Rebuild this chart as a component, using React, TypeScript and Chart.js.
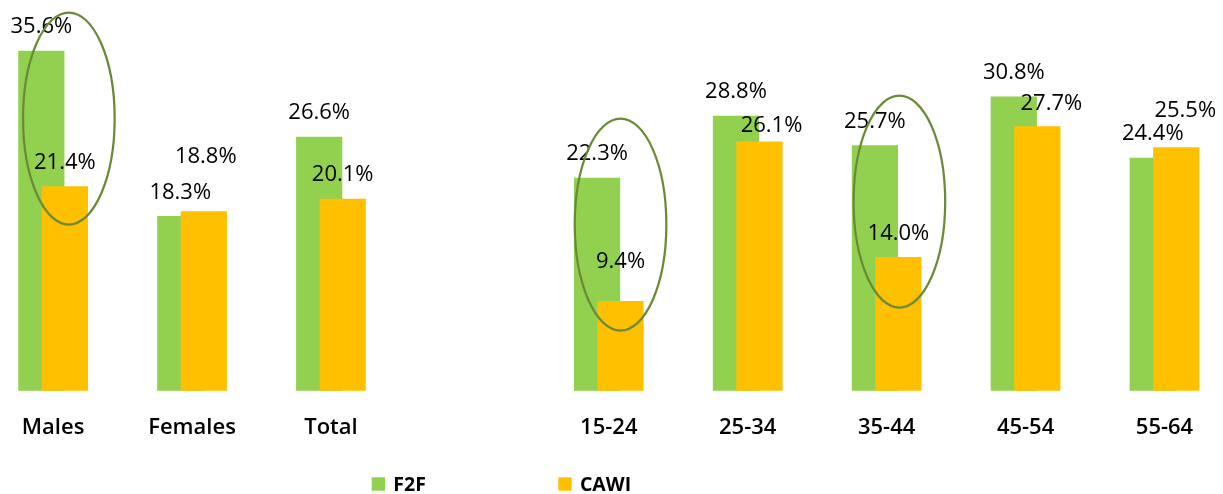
import React, { useEffect, useRef } from 'react';
import { Chart, registerables } from 'chart.js';

Chart.register(...registerables);

// ---- data -------------------------------------------------------------
const categories = ['Males', 'Females', 'Total', '', '15-24', '25-34', '35-44', '45-54', '55-64'];
const f2fShare = [35.6, 18.3, 26.6, null, 22.3, 28.8, 25.7, 30.8, 24.4];
const cawiShare = [21.4, 18.8, 20.1, null, 9.4, 26.1, 14.0, 27.7, 25.5];
const seriesNames = ['F2F', 'CAWI'];
const seriesColors = ['#92D050', '#FFC000'];

// CAWI value labels that were moved off their default spot (dx, dy in px)
const cawiLabelShift: [number, number][] = [
  [0, 0], [2, -31], [0, 0], [0, 0], [0, -16], [12, 8], [0, 0], [14, 1], [9, -13],
];

// groups circled to highlight the F2F / CAWI gap (centre value, x nudge)
const circledGroups = ['Males', '15-24', '35-44'];
const circleCentres = [28.5, 17.4, 19.8];
const circleNudge = [4, 0, 1];

const FONT = '"Open Sans", "Noto Sans", sans-serif';

// draw datasets first-to-last so the CAWI bars sit over the F2F bars
const overlapOrder = {
  id: 'overlapOrder',
  beforeDatasetsDraw(chart: any) {
    const metas = chart.getSortedVisibleDatasetMetas();
    metas.forEach((m: any) => m.controller.draw());
    return false;
  },
};

const decorations = {
  id: 'decorations',
  afterDraw(chart: any) {
    const ctx: CanvasRenderingContext2D = chart.ctx;
    const yScale = chart.scales.y;
    ctx.save();

    // value labels
    ctx.font = `22px ${FONT}`;
    ctx.fillStyle = '#000';
    ctx.textAlign = 'center';
    ctx.textBaseline = 'alphabetic';
    chart.data.datasets.forEach((ds: any, di: number) => {
      const meta = chart.getDatasetMeta(di);
      meta.data.forEach((bar: any, i: number) => {
        const v = ds.data[i];
        if (v == null) return;
        const s = di === 1 ? cawiLabelShift[i] : [0, 0];
        ctx.fillText(`${v.toFixed(1)}%`, bar.x + s[0], bar.y - 17.3 + s[1]);
      });
    });

    // highlight ellipses around the CAWI bar of selected groups
    const cawiMeta = chart.getDatasetMeta(1);
    ctx.strokeStyle = '#6A8A38';
    ctx.lineWidth = 2.25;
    circledGroups.forEach((g, k) => {
      const idx = categories.indexOf(g);
      const bar: any = cawiMeta.data[idx];
      const cx = bar.x + circleNudge[k];
      const cy = yScale.getPixelForValue(circleCentres[k]);
      ctx.beginPath();
      ctx.ellipse(cx, cy, 45.8, 106, 0, 0, Math.PI * 2);
      ctx.stroke();
    });

    // legend
    ctx.font = `700 19.5px ${FONT}`;
    ctx.textAlign = 'left';
    const legendLeft = 371.7;
    const legendStep = 186.6;
    chart.data.datasets.forEach((ds: any, di: number) => {
      const x = legendLeft + di * legendStep;
      ctx.fillStyle = ds.backgroundColor;
      ctx.fillRect(x, 477.3, 13.4, 13.4);
      ctx.fillStyle = '#000';
      ctx.fillText(ds.label, x + 21.6, 490.7);
    });

    ctx.restore();
  },
};

export default function App() {
  const canvasRef = useRef<HTMLCanvasElement | null>(null);

  useEffect(() => {
    document.body.style.margin = '0';
    const canvas = canvasRef.current;
    if (!canvas) return;
    const chart = new Chart(canvas, {
      type: 'bar',
      data: {
        labels: categories,
        datasets: [
          {
            label: seriesNames[0],
            data: f2fShare,
            backgroundColor: seriesColors[0],
            borderWidth: 0,
            categoryPercentage: 0.3384,
            barPercentage: 1.966,
            clip: false,
          },
          {
            label: seriesNames[1],
            data: cawiShare,
            backgroundColor: seriesColors[1],
            borderWidth: 0,
            categoryPercentage: 0.3384,
            barPercentage: 1.966,
            clip: false,
          },
        ],
      } as any,
      options: {
        responsive: false,
        animation: false,
        events: [],
        layout: { padding: { left: 53.1, right: 58.5, top: 8.7, bottom: 28.7 } },
        plugins: {
          legend: { display: false },
          tooltip: { enabled: false },
        },
        scales: {
          x: {
            offset: false,
            grid: { display: false, drawTicks: false },
            border: { display: false },
            ticks: {
              padding: 20,
              color: '#000',
              font: { family: FONT, size: 22, weight: '600', lineHeight: 1.573 },
              autoSkip: false,
              maxRotation: 0,
            },
          },
          y: {
            display: false,
            min: 0,
            max: 40,
          },
        },
      } as any,
      plugins: [overlapOrder, decorations],
    });
    return () => chart.destroy();
  }, []);

  return (
    <div style={{ position: 'fixed', left: 0, top: 0, width: 1223, height: 494, background: '#fff' }}>
      <canvas ref={canvasRef} width={1223} height={494} style={{ display: 'block' }} />
    </div>
  );
}
